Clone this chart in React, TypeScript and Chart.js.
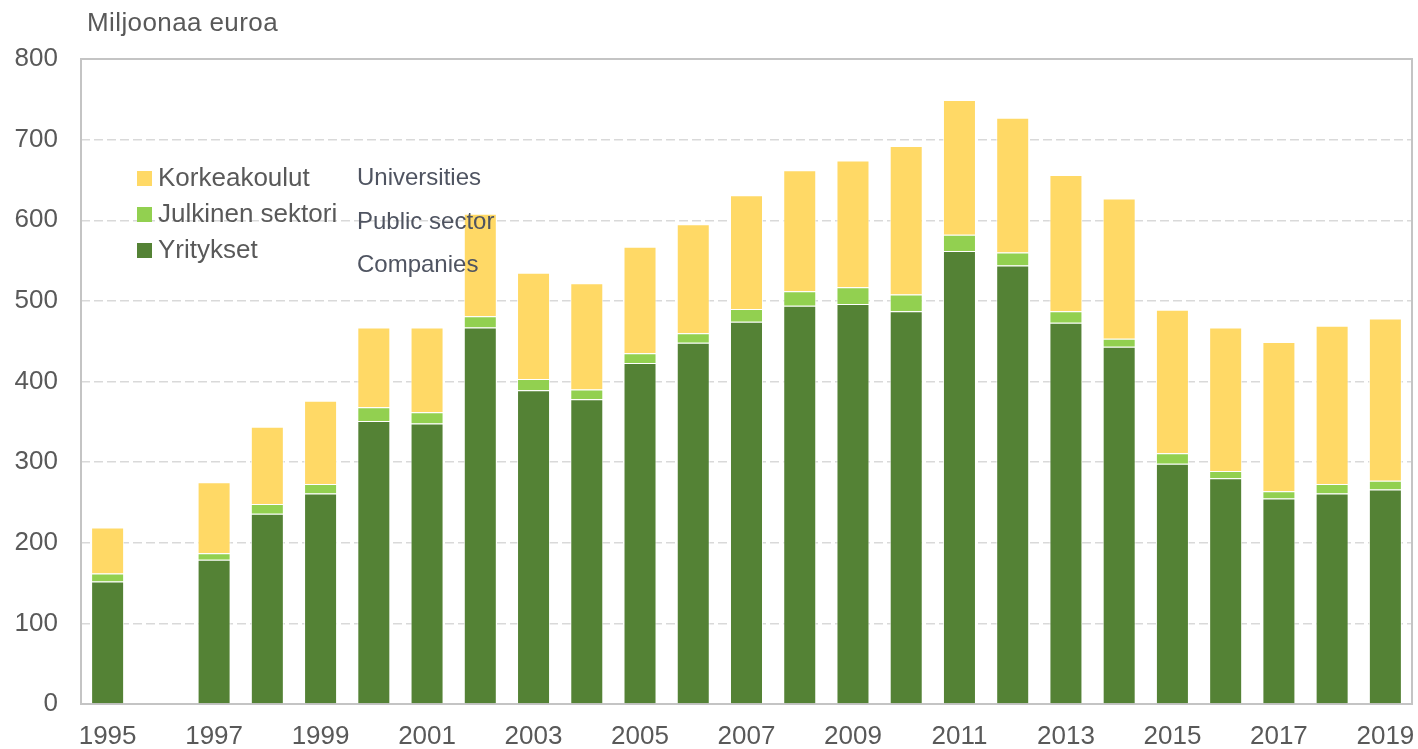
import React, { useEffect, useRef } from "react";
import { Chart, registerables } from "chart.js";

Chart.register(...registerables);

const years: string[] = [
  "1995", "1996", "1997", "1998", "1999", "2000", "2001", "2002", "2003", "2004",
  "2005", "2006", "2007", "2008", "2009", "2010", "2011", "2012", "2013", "2014",
  "2015", "2016", "2017", "2018", "2019",
];

const yritykset: (number | null)[] = [
  152, null, 179, 236, 261, 351, 348, 467, 389, 378,
  423, 448, 474, 494, 496, 487, 562, 544, 473, 443,
  298, 280, 255, 261, 266,
];

const julkinenSektori: (number | null)[] = [
  10, null, 8, 12, 12, 17, 14, 14, 14, 12,
  12, 12, 16, 18, 21, 21, 20, 16, 14, 10,
  13, 9, 9, 12, 11,
];

const korkeakoulut: (number | null)[] = [
  57, null, 88, 96, 103, 99, 105, 127, 132, 132,
  132, 135, 141, 150, 157, 184, 167, 167, 169, 174,
  178, 178, 185, 196, 201,
];

const seriesFi = ["Korkeakoulut", "Julkinen sektori", "Yritykset"];
const seriesEn = ["Universities", "Public sector", "Companies"];
const unitLabel = "Miljoonaa euroa";

const COLORS = {
  yritykset: "#548235",
  julkinen: "#92D050",
  korkeakoulut: "#FFD966",
  text: "#595959",
  textEn: "#4f5461",
  grid: "#d9d9d9",
  frame: "#c4c4c4",
};

const FONT = "'Liberation Sans', Arial, sans-serif";

const overlayPlugin = {
  id: "overlay",
  beforeDatasetsDraw(chart: any) {
    const { ctx, chartArea } = chart;
    ctx.save();
    ctx.strokeStyle = COLORS.frame;
    ctx.lineWidth = 2;
    ctx.setLineDash([]);
    ctx.strokeRect(chartArea.left, chartArea.top, chartArea.right - chartArea.left, chartArea.bottom - chartArea.top);
    ctx.restore();
  },
  afterDatasetsDraw(chart: any) {
    const { ctx } = chart;
    ctx.save();
    ctx.fillStyle = COLORS.text;
    ctx.font = `26px ${FONT}`;
    ctx.textBaseline = "alphabetic";
    ctx.textAlign = "left";
    try { (ctx as any).letterSpacing = "0.4px"; } catch (e) {}
    ctx.fillText(unitLabel, 87, 31);
    try { (ctx as any).letterSpacing = "0px"; } catch (e) {}

    const boxColors = [COLORS.korkeakoulut, COLORS.julkinen, COLORS.yritykset];
    const fiBase = [186, 222, 258];
    const enBase = [185, 229, 272];
    for (let i = 0; i < 3; i++) {
      ctx.fillStyle = boxColors[i];
      ctx.fillRect(137, fiBase[i] - 15, 15, 15);
      ctx.fillStyle = COLORS.text;
      ctx.font = `26px ${FONT}`;
      ctx.fillText(seriesFi[i], 158, fiBase[i]);
      ctx.fillStyle = COLORS.textEn;
      ctx.font = `24px ${FONT}`;
      ctx.fillText(seriesEn[i], 357, enBase[i]);
    }
    ctx.restore();
  },
};

export default function App() {
  const canvasRef = useRef<HTMLCanvasElement | null>(null);

  useEffect(() => {
    if (!canvasRef.current) return;
    const chart = new Chart(canvasRef.current, {
      type: "bar",
      data: {
        labels: years,
        datasets: [
          {
            label: seriesFi[2],
            data: yritykset,
            backgroundColor: COLORS.yritykset,
            borderColor: "rgba(255,255,255,0.8)",
            borderWidth: 1,
          },
          {
            label: seriesFi[1],
            data: julkinenSektori,
            backgroundColor: COLORS.julkinen,
            borderColor: "rgba(255,255,255,0.8)",
            borderWidth: 1,
          },
          {
            label: seriesFi[0],
            data: korkeakoulut,
            backgroundColor: COLORS.korkeakoulut,
            borderColor: "rgba(255,255,255,0.8)",
            borderWidth: 1,
          },
        ],
      },
      options: {
        animation: false,
        responsive: true,
        maintainAspectRatio: false,
        datasets: {
          bar: { categoryPercentage: 1, barPercentage: 0.62 },
        },
        layout: { padding: { left: 0, right: 6, top: 59, bottom: 0 } },
        plugins: {
          legend: { display: false },
          tooltip: { enabled: false },
          title: { display: false },
        },
        scales: {
          x: {
            stacked: true,
            grid: { display: false, drawTicks: false },
            border: { display: false },
            ticks: {
              autoSkip: false,
              maxRotation: 0,
              minRotation: 0,
              padding: 17,
              color: COLORS.text,
              font: { family: FONT, size: 26 },
              callback: function (this: any, value: any, index: number) {
                return index % 2 === 0 ? years[index] : "";
              },
            },
            afterFit(scale: any) {
              scale.height = 45;
              scale.paddingLeft = 0;
              scale.paddingRight = 0;
            },
          },
          y: {
            stacked: true,
            min: 0,
            max: 800,
            ticks: {
              stepSize: 100,
              padding: 23,
              color: COLORS.text,
              font: { family: FONT, size: 26 },
            },
            grid: {
              color: COLORS.grid,
              lineWidth: 1.5,
              drawTicks: false,
            },
            border: { display: false, dash: [9, 4] },
            afterFit(scale: any) {
              scale.width = 81;
              scale.paddingTop = 0;
              scale.paddingBottom = 0;
            },
          },
        },
      },
      plugins: [overlayPlugin],
    });
    return () => chart.destroy();
  }, []);

  return (
    <div style={{ position: "fixed", left: 0, top: 0, width: 1418, height: 749, background: "#fff" }}>
      <canvas ref={canvasRef} />
    </div>
  );
}
